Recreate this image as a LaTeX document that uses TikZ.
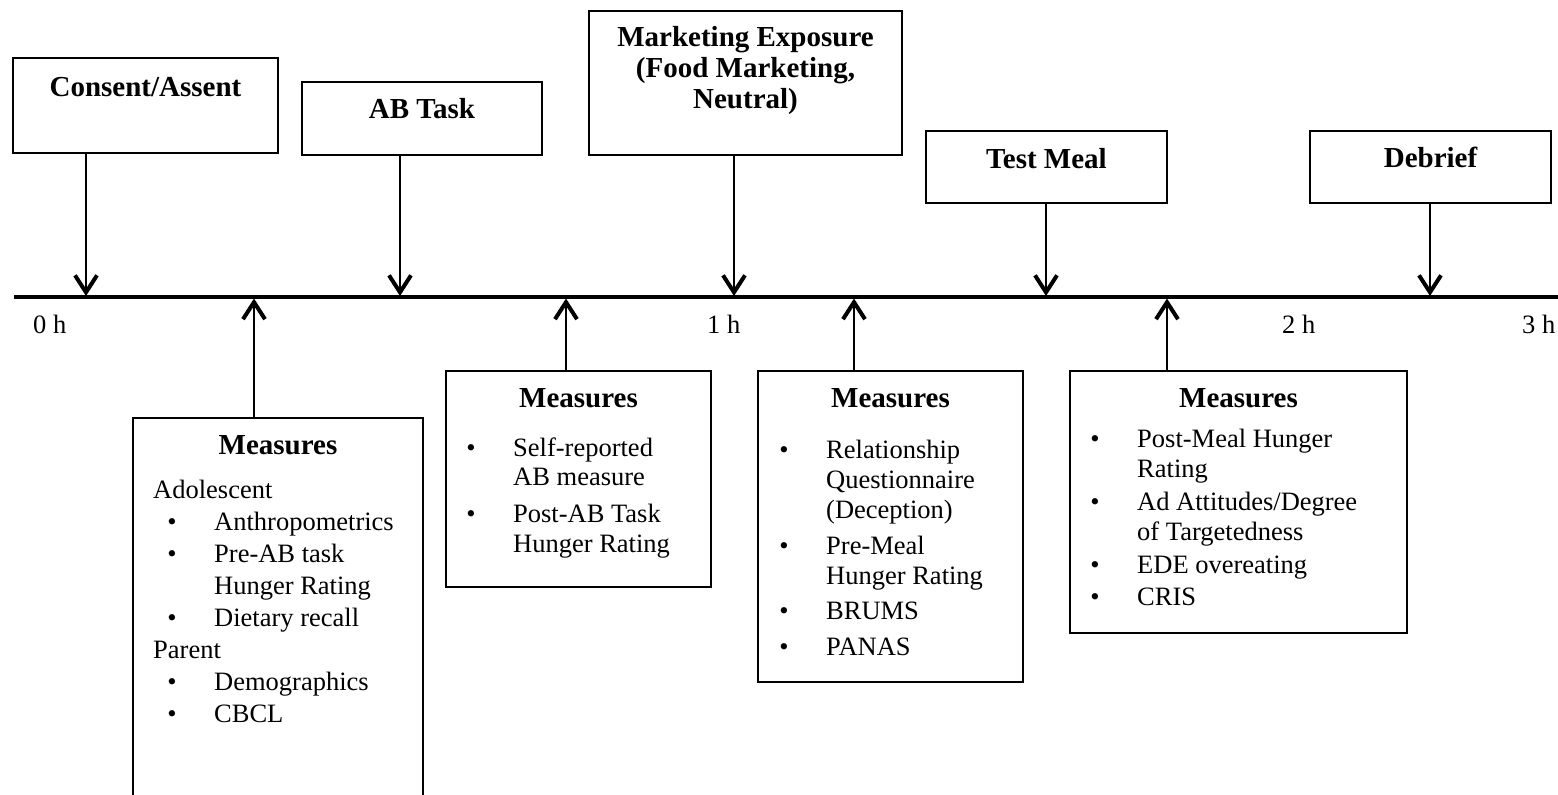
\documentclass[tikz,border=0pt]{standalone}
\usepackage{fontspec}
\setmainfont{Liberation Serif}
\usetikzlibrary{arrows.meta}

\newcommand\bul{\llap{\textbullet\hspace{37.5pt}}}
\newcommand\grp[1]{\llap{\makebox[61pt][l]{#1}}}

\tikzset{
  box/.style={draw, line width=2pt, inner sep=0pt},
  head/.style={font=\fontsize{29}{31}\selectfont\bfseries, inner sep=0pt, anchor=base, align=center},
  body/.style={inner sep=0pt, anchor=base west, align=left},
  arr/.style={line width=2.6pt, -{Straight Barb[length=17pt,width=22pt,line width=4pt]}},
  axis/.style={line width=3.5pt},
  hour/.style={font=\fontsize{26.5}{30}\selectfont, inner sep=0pt, anchor=base west}
}

\begin{document}
\begin{tikzpicture}[x=1pt,y=-1pt]
\useasboundingbox (0,0) rectangle (1558,795);
\clip (0,0) rectangle (1558,795);

% time axis
\coordinate (axisL) at (14,297);
\coordinate (axisR) at (1560,297);
\draw[axis] (axisL) -- (axisR);

\node[hour] (h0) at (33,333) {0 h};
\node[hour] (h1) at (707,333) {1 h};
\node[hour] (h2) at (1282,333) {2 h};
\node[hour] (h3) at (1522,333) {3 h};

% events above the axis
\node[box, minimum width=265pt, minimum height=95pt]  (consent) at (145.5,105.5) {};
\node[box, minimum width=240pt, minimum height=73pt]  (abtask)  at (422,118.5) {};
\node[box, minimum width=313pt, minimum height=144pt] (market)  at (745.5,83) {};
\node[box, minimum width=241pt, minimum height=72pt]  (meal)    at (1046.5,167) {};
\node[box, minimum width=241pt, minimum height=72pt]  (debrief) at (1430.5,167) {};

% (multi-line nodes are placed by the baseline of their last line)
\node[head] (consentT) at (145.5,96) {Consent/Assent};
\node[head] (abtaskT)  at (422,118) {AB Task};
\node[head] (marketT)  at (745.5,108.5) {Marketing Exposure\\(Food Marketing,\\Neutral)};
\node[head] (mealT)    at (1046.5,168) {Test Meal};
\node[head] (debriefT) at (1430.5,167) {Debrief};

\coordinate (d1) at (86,296);
\coordinate (d2) at (400,296);
\coordinate (d3) at (734,296);
\coordinate (d4) at (1046,296);
\coordinate (d5) at (1430,296);
\draw[arr] (consent.south -| d1) -- (d1);
\draw[arr] (abtask.south -| d2) -- (d2);
\draw[arr] (market.south -| d3) -- (d3);
\draw[arr] (meal.south -| d4) -- (d4);
\draw[arr] (debrief.south -| d5) -- (d5);

% measures below the axis
\node[box, minimum width=290pt, minimum height=412pt] (m1) at (278,624) {};
\node[box, minimum width=265pt, minimum height=216pt] (m2) at (578.5,479) {};
\node[box, minimum width=265pt, minimum height=311pt] (m3) at (890.5,526.5) {};
\node[box, minimum width=337pt, minimum height=262pt] (m4) at (1238.5,502) {};

\node[head] (m1H) at (278,454) {Measures};
\node[head] (m2H) at (578.5,407) {Measures};
\node[head] (m3H) at (890.5,407) {Measures};
\node[head] (m4H) at (1238.5,407) {Measures};

\node[body, font=\fontsize{26.5}{32}\selectfont] (m1L) at (214,722)
  {\grp{Adolescent}\\
   \bul Anthropometrics\\
   \bul Pre-AB task\\
   Hunger Rating\\
   \bul Dietary recall\\
   \grp{Parent}\\
   \bul Demographics\\
   \bul CBCL};

\node[body, font=\fontsize{26.5}{29.5}\selectfont] (m2L) at (513,552)
  {\bul Self-reported\\
   AB measure\\[7.5pt]
   \bul Post-AB Task\\
   Hunger Rating};

\node[body, font=\fontsize{26.5}{30}\selectfont] (m3L) at (826,655)
  {\bul Relationship\\
   Questionnaire\\
   (Deception)\\[6pt]
   \bul Pre-Meal\\
   Hunger Rating\\[5pt]
   \bul BRUMS\\[6pt]
   \bul PANAS};

\node[body, font=\fontsize{26.5}{30}\selectfont] (m4L) at (1137,605)
  {\bul Post-Meal Hunger\\
   Rating\\[3pt]
   \bul Ad Attitudes/Degree\\
   of Targetedness\\[3pt]
   \bul EDE overeating\\[2pt]
   \bul CRIS};

\coordinate (u1) at (254,298.5);
\coordinate (u2) at (566,298.5);
\coordinate (u3) at (854,298.5);
\coordinate (u4) at (1167,298.5);
\draw[arr] (m1.north -| u1) -- (u1);
\draw[arr] (m2.north -| u2) -- (u2);
\draw[arr] (m3.north -| u3) -- (u3);
\draw[arr] (m4.north -| u4) -- (u4);
\end{tikzpicture}
\end{document}
